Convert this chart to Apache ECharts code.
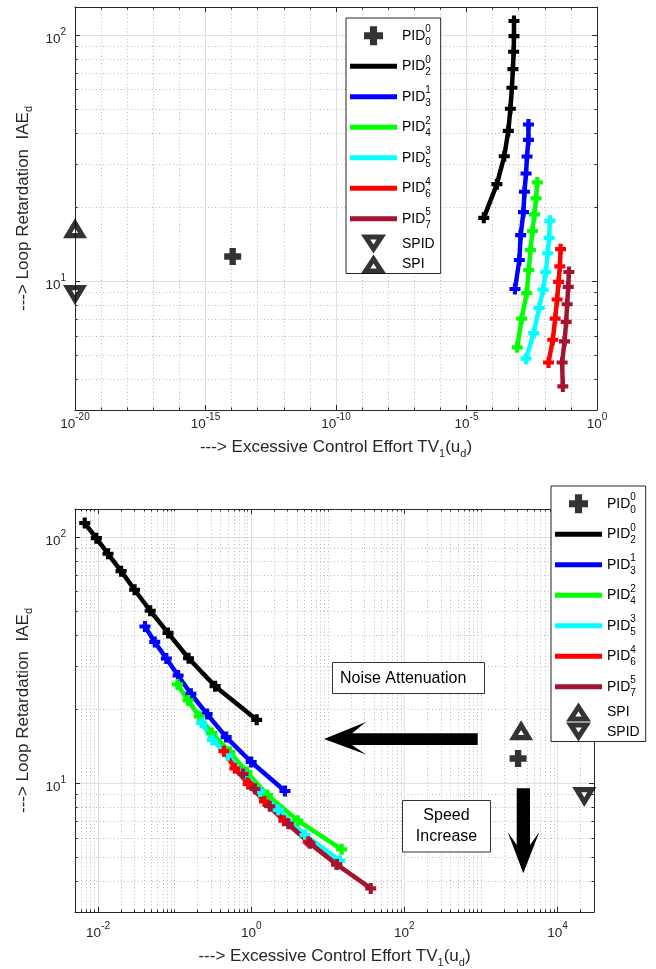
<!DOCTYPE html>
<html>
<head>
<meta charset="utf-8">
<script src="https://cdn.jsdelivr.net/npm/echarts@6/dist/echarts.min.js"></script>
<style>
html,body{margin:0;padding:0;background:#ffffff;}
#c{width:656px;height:969px;}
</style>
</head>
<body>
<div id="c"></div>
<script>
// ---------------- DATA ----------------
// Loop Retardation IAE_d (shared by both panels)
const IAE_PID02 = [114, 99, 85.5, 72.7, 61.1, 50.2, 40.8, 32.2, 24.8, 18.1];
const IAE_PID13 = [43.3, 37.5, 32.1, 27.4, 23.1, 19.1, 15.4, 12.2, 9.3];
const IAE_PID24 = [25.2, 21.7, 18.7, 16.0, 13.4, 11.1, 8.96, 7.05, 5.39];
const IAE_PID35 = [17.6, 15.0, 13.0, 10.9, 9.25, 7.8, 6.16, 4.85];
const IAE_PID46 = [13.5, 11.5, 9.94, 8.43, 7.05, 5.79, 4.68];
const IAE_PID57 = [10.9, 9.49, 8.07, 6.84, 5.70, 4.68, 3.74];
const IAE_PID00 = [12.6];
const IAE_SPI = [16.4];
const IAE_SPID = [8.8];

// Excessive control effort TV1(u_d) – upper panel
const TVA_PID02 = [6.6e-4, 6.6e-4, 6.4e-4, 6.0e-4, 5.5e-4, 4.8e-4, 4.0e-4, 2.8e-4, 1.46e-4, 4.6e-5];
const TVA_PID13 = [2.36e-3, 2.36e-3, 2.08e-3, 1.91e-3, 1.66e-3, 1.52e-3, 1.19e-3, 1.06e-3, 7.2e-4];
const TVA_PID24 = [5.15e-3, 4.62e-3, 4.02e-3, 3.37e-3, 2.82e-3, 2.43e-3, 2.03e-3, 1.30e-3, 8.75e-4];
const TVA_PID35 = [1.56e-2, 1.46e-2, 1.30e-2, 1.09e-2, 8.6e-3, 6.1e-3, 3.78e-3, 1.91e-3];
const TVA_PID46 = [4.02e-2, 3.78e-2, 3.37e-2, 2.97e-2, 2.49e-2, 2.03e-2, 1.39e-2];
const TVA_PID57 = [8.4e-2, 7.9e-2, 7.2e-2, 6.6e-2, 5.7e-2, 4.6e-2, 4.9e-2];
const TVA_PID00 = [1.1e-14];
const TVA_SPI = [1e-20];
const TVA_SPID = [1e-20];

// Excessive control effort TV1(u_d) – lower panel
const TVB_PID02 = [0.0067, 0.0095, 0.0135, 0.020, 0.030, 0.048, 0.082, 0.152, 0.338, 1.18];
const TVB_PID13 = [0.041, 0.055, 0.078, 0.111, 0.163, 0.266, 0.471, 1.0, 2.76];
const TVB_PID24 = [0.109, 0.150, 0.209, 0.306, 0.527, 0.879, 1.63, 4.07, 15.2];
const TVB_PID35 = [0.225, 0.311, 0.496, 0.803, 1.30, 2.26, 5.04, 14.4];
const TVB_PID46 = [0.440, 0.612, 0.914, 1.49, 2.67, 5.56, 13.1];
const TVB_PID57 = [0.785, 1.12, 1.75, 3.05, 5.85, 13.1, 36.4];
const TVB_PID00 = [3060];
const TVB_SPI = [3350];
const TVB_SPID = [22400];

// axis ranges & tick labels
const XA_RANGE = [1e-20, 1];
const XB_RANGE = [0.005, 3e4];
const Y_RANGE = [3, 130];
const XA_TICKS = [1e-20, 1e-15, 1e-10, 1e-5, 1];
const XB_TICKS = [1e-2, 1, 1e2, 1e4];
const Y_TICKS = [10, 100];

const LEGEND_A = ['PID00', 'PID02', 'PID13', 'PID24', 'PID35', 'PID46', 'PID57', 'SPID', 'SPI'];
const LEGEND_B = ['PID00', 'PID02', 'PID13', 'PID24', 'PID35', 'PID46', 'PID57', 'SPI', 'SPID'];
const LEGEND_SCRIPTS = {PID00: ['0', '0'], PID02: ['0', '2'], PID13: ['1', '3'], PID24: ['2', '4'],
  PID35: ['3', '5'], PID46: ['4', '6'], PID57: ['5', '7']};

// ---------------- STYLE ----------------
const FONT = '"Liberation Sans", Arial, Helvetica, sans-serif';
const AX = '#262626';
const COLORS = {PID00: '#000000', PID02: '#000000', PID13: '#0000ff', PID24: '#00ff00',
  PID35: '#00ffff', PID46: '#ff0000', PID57: '#a2142f', SPI: '#000000', SPID: '#000000'};
const PLUS = 'path://M0,5H5V0H11V5H16V11H11V16H5V11H0Z';
const LINE_ICON = 'path://M0,0H47V5H0Z';
const TRI_UP = 'path://M0,19L12.5,0L25,19ZM9.3,14L15.7,14L12.5,9.1Z';
const TRI_DN = 'path://M0,0L25,0L12.5,19ZM9.3,5L12.5,9.9L15.7,5Z';

function minorLogValues(lo, hi, skip) {
  const out = [];
  for (let d = Math.floor(Math.log10(lo)) - 1; d <= Math.ceil(Math.log10(hi)); d++) {
    for (let k = 1; k <= 9; k++) {
      const v = k * Math.pow(10, d);
      if (v >= lo * 0.999 && v <= hi * 1.001 && !skip.some(s => Math.abs(Math.log10(s) - Math.log10(v)) < 1e-6)) out.push(v);
    }
  }
  return out;
}
function decadeValues(lo, hi, skip) {
  const out = [];
  for (let d = Math.ceil(Math.log10(lo) - 1e-9); d <= Math.floor(Math.log10(hi) + 1e-9); d++) {
    const v = Math.pow(10, d);
    if (!skip.some(s => Math.abs(Math.log10(s) - d) < 1e-6)) out.push(v);
  }
  return out;
}
const XA_MINOR = decadeValues(XA_RANGE[0], XA_RANGE[1], XA_TICKS);
const XB_MINOR = minorLogValues(XB_RANGE[0], XB_RANGE[1], XB_TICKS);
const Y_MINOR = minorLogValues(Y_RANGE[0], Y_RANGE[1], Y_TICKS);

const TICK_RICH = {
  b: {fontSize: 13.5, lineHeight: 21, verticalAlign: 'bottom', color: AX, fontFamily: FONT},
  s: {fontSize: 10, lineHeight: 13, height: 14, verticalAlign: 'top', color: AX, fontFamily: FONT}
};
const NAME_RICH = {
  a: {fontSize: 17, lineHeight: 20, verticalAlign: 'top', color: AX, fontFamily: FONT},
  s: {fontSize: 11, lineHeight: 10, verticalAlign: 'bottom', color: AX, fontFamily: FONT}
};
const X_NAME = '{a|---> Excessive Control Effort TV}{s|1}{a|(u}{s|d}{a|)}';
const Y_NAME = '{a|---> Loop Retardation  IAE}{s|d}';

function powLabel(v) {
  const e = Math.round(Math.log10(v));
  return '{b|10}{s|' + e + '}';
}

function xAxes(gi, range, majors, minors, labelMargin, nameGap) {
  const base = {gridIndex: gi, type: 'log', logBase: 10, min: range[0], max: range[1]};
  return [
    Object.assign({}, base, {
      position: 'bottom',
      axisLine: {show: true, lineStyle: {color: AX, width: 1}},
      axisTick: {show: true, inside: true, length: 5, customValues: majors, lineStyle: {color: AX}},
      axisLabel: {show: true, customValues: majors, formatter: powLabel, margin: labelMargin, rich: TICK_RICH},
      splitLine: {show: true, lineStyle: {color: '#e0e0e0', width: 1}},
      name: X_NAME, nameLocation: 'middle', nameGap: nameGap,
      nameTextStyle: {rich: NAME_RICH}
    }),
    Object.assign({}, base, {
      position: 'bottom',
      axisLine: {show: false},
      axisTick: {show: true, inside: true, length: 2.5, customValues: minors, lineStyle: {color: AX}},
      axisLabel: {show: false},
      splitLine: {show: true, lineStyle: {color: '#bcbcbc', width: 1, type: [1, 2.5]}}
    }),
    Object.assign({}, base, {
      position: 'top',
      axisLine: {show: true, lineStyle: {color: AX, width: 1}},
      axisTick: {show: true, inside: true, length: 5, customValues: majors, lineStyle: {color: AX}},
      axisLabel: {show: false}, splitLine: {show: false}
    }),
    Object.assign({}, base, {
      position: 'top',
      axisLine: {show: false},
      axisTick: {show: true, inside: true, length: 2.5, customValues: minors, lineStyle: {color: AX}},
      axisLabel: {show: false}, splitLine: {show: false}
    })
  ];
}
function yAxes(gi) {
  const base = {gridIndex: gi, type: 'log', logBase: 10, min: Y_RANGE[0], max: Y_RANGE[1]};
  return [
    Object.assign({}, base, {
      position: 'left',
      axisLine: {show: true, lineStyle: {color: AX, width: 1}},
      axisTick: {show: true, inside: true, length: 5, customValues: Y_TICKS, lineStyle: {color: AX}},
      axisLabel: {show: true, customValues: Y_TICKS, formatter: powLabel, margin: 9, padding: [1, 0, 0, 0], rich: TICK_RICH},
      splitLine: {show: true, lineStyle: {color: '#e0e0e0', width: 1}},
      name: Y_NAME, nameLocation: 'middle', nameGap: 39,
      nameTextStyle: {rich: NAME_RICH}
    }),
    Object.assign({}, base, {
      position: 'left',
      axisLine: {show: false},
      axisTick: {show: true, inside: true, length: 2.5, customValues: Y_MINOR, lineStyle: {color: AX}},
      axisLabel: {show: false},
      splitLine: {show: true, lineStyle: {color: '#bcbcbc', width: 1, type: [1, 2.5]}}
    }),
    Object.assign({}, base, {
      position: 'right',
      axisLine: {show: true, lineStyle: {color: AX, width: 1}},
      axisTick: {show: true, inside: true, length: 5, customValues: Y_TICKS, lineStyle: {color: AX}},
      axisLabel: {show: false}, splitLine: {show: false}
    }),
    Object.assign({}, base, {
      position: 'right',
      axisLine: {show: false},
      axisTick: {show: true, inside: true, length: 2.5, customValues: Y_MINOR, lineStyle: {color: AX}},
      axisLabel: {show: false}, splitLine: {show: false}
    })
  ];
}

function zip(xs, ys) { return xs.map((x, i) => [x, ys[i]]); }
function lineSeries(name, xs, ys, ai) {
  const c = COLORS[name];
  return {
    type: 'line', name: name, xAxisIndex: ai, yAxisIndex: ai, data: zip(xs, ys),
    symbol: PLUS, symbolSize: 11, showSymbol: true, clip: false,
    lineStyle: {color: c, width: 4.5}, itemStyle: {color: c, borderWidth: 0},
    emphasis: {disabled: true}, silent: true, z: 3
  };
}
function markSeries(name, xs, ys, ai, symbol, size) {
  return {
    type: 'scatter', name: name, xAxisIndex: ai, yAxisIndex: ai, data: zip(xs, ys),
    symbol: symbol, symbolSize: size, clip: false,
    itemStyle: {color: COLORS[name], borderWidth: 0},
    emphasis: {disabled: true}, silent: true, z: 4
  };
}
function panelSeries(ai, tv) {
  return [
    markSeries('PID00', tv.PID00, IAE_PID00, ai, PLUS, 17),
    lineSeries('PID02', tv.PID02, IAE_PID02, ai),
    lineSeries('PID13', tv.PID13, IAE_PID13, ai),
    lineSeries('PID24', tv.PID24, IAE_PID24, ai),
    lineSeries('PID35', tv.PID35, IAE_PID35, ai),
    lineSeries('PID46', tv.PID46, IAE_PID46, ai),
    lineSeries('PID57', tv.PID57, IAE_PID57, ai),
    markSeries('SPI', tv.SPI, IAE_SPI, ai, TRI_UP, [24, 20]),
    markSeries('SPID', tv.SPID, IAE_SPID, ai, TRI_DN, [24, 20])
  ];
}

const LEG_RICH = {
  m: {fontSize: 14, lineHeight: 29.5, verticalAlign: 'middle', color: '#000', fontFamily: FONT},
  p: {fontSize: 10, lineHeight: 17, height: 17, verticalAlign: 'top', width: 0, color: '#000', fontFamily: FONT},
  b: {fontSize: 10, lineHeight: 17, height: 17, verticalAlign: 'bottom', color: '#000', fontFamily: FONT},
  n: {fontSize: 14, lineHeight: 16, color: '#000', fontFamily: FONT}
};
function legendIcon(name) {
  if (name === 'PID00') return PLUS;
  if (name === 'SPI') return TRI_UP;
  if (name === 'SPID') return TRI_DN;
  return LINE_ICON;
}
function legend(names, left, top) {
  return {
    orient: 'vertical', left: left, top: top, align: 'left',
    padding: [3, 6, 0, 4], itemGap: 1, itemWidth: 47, itemHeight: 19,
    backgroundColor: '#ffffff', borderColor: AX, borderWidth: 1, borderRadius: 0,
    selectedMode: false,
    data: names.map(n => ({name: n, icon: legendIcon(n), itemStyle: {color: COLORS[n], borderWidth: 0}})),
    formatter: function (name) {
      const sc = LEGEND_SCRIPTS[name];
      if (sc) return '{m|PID}{p|' + sc[0] + '}{b|' + sc[1] + '}';
      return '{n|' + name + '}';
    },
    textStyle: {fontFamily: FONT, fontSize: 14, color: '#000', rich: LEG_RICH}
  };
}

const TV_A = {PID00: TVA_PID00, PID02: TVA_PID02, PID13: TVA_PID13, PID24: TVA_PID24, PID35: TVA_PID35,
  PID46: TVA_PID46, PID57: TVA_PID57, SPI: TVA_SPI, SPID: TVA_SPID};
const TV_B = {PID00: TVB_PID00, PID02: TVB_PID02, PID13: TVB_PID13, PID24: TVB_PID24, PID35: TVB_PID35,
  PID46: TVB_PID46, PID57: TVB_PID57, SPI: TVB_SPI, SPID: TVB_SPID};

// annotation shapes (lower panel)
const LEFT_ARROW = [[477.7, 733.3], [477.7, 745], [352, 745], [366, 754.5], [324, 739], [366, 722], [352, 733.3]];
const DOWN_ARROW = [[516.7, 788.3], [530, 788.3], [530, 845], [539.3, 832], [523.3, 873.3], [507.7, 832], [516.7, 845]];

const option = {
  animation: false,
  backgroundColor: '#ffffff',
  textStyle: {fontFamily: FONT},
  grid: [
    {left: 75, top: 7, width: 522, height: 403, containLabel: false},
    {left: 75, top: 509, width: 519, height: 403, containLabel: false}
  ],
  xAxis: [].concat(xAxes(0, XA_RANGE, XA_TICKS, XA_MINOR, 0, 29), xAxes(1, XB_RANGE, XB_TICKS, XB_MINOR, 7, 36)),
  yAxis: [].concat(yAxes(0), yAxes(1)),
  legend: [legend(LEGEND_A, 346, 18), legend(LEGEND_B, 551, 486)],
  series: [].concat(panelSeries(0, TV_A), panelSeries(4, TV_B)),
  graphic: [
    {type: 'rect', shape: {x: 332.5, y: 662.5, width: 152, height: 31}, style: {fill: '#ffffff', stroke: '#333333', lineWidth: 1}, z: 10, silent: true},
    {type: 'text', x: 340, y: 678.5, style: {text: 'Noise Attenuation', fontSize: 16, fontFamily: FONT, fill: '#000000', align: 'left', verticalAlign: 'middle'}, z: 11, silent: true},
    {type: 'polygon', shape: {points: LEFT_ARROW}, style: {fill: '#000000'}, z: 10, silent: true},
    {type: 'rect', shape: {x: 402.5, y: 800.5, width: 88, height: 51.5}, style: {fill: '#ffffff', stroke: '#333333', lineWidth: 1}, z: 10, silent: true},
    {type: 'text', x: 446.5, y: 826.5, style: {text: 'Speed\nIncrease', fontSize: 16, fontFamily: FONT, fill: '#000000', align: 'center', verticalAlign: 'middle', lineHeight: 21}, z: 11, silent: true},
    {type: 'polygon', shape: {points: DOWN_ARROW}, style: {fill: '#000000'}, z: 10, silent: true}
  ]
};

const chart = echarts.init(document.getElementById('c'), null, {renderer: 'canvas'});
chart.setOption(option);
</script>
</body>
</html>
